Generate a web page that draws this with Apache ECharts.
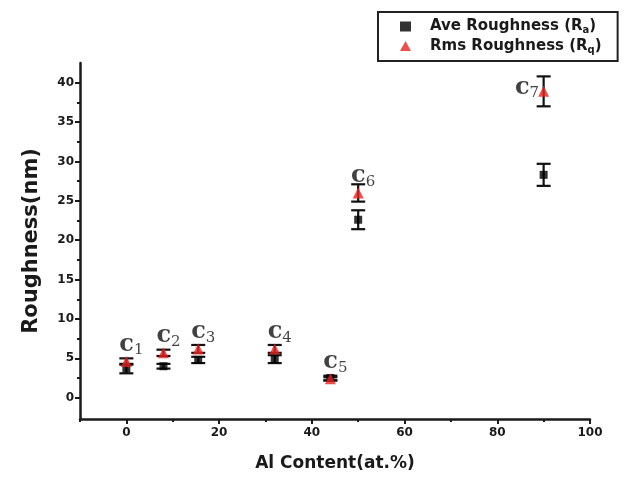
<!DOCTYPE html>
<html>
<head>
<meta charset="utf-8">
<script src="https://cdn.jsdelivr.net/npm/echarts@6/dist/echarts.min.js"></script>
<style>html,body{margin:0;padding:0;background:#fff;}#c{width:625px;height:480px;}</style>
</head>
<body>
<div id="c"></div>
<script>
// ---- data ----
const alContent = [0, 8, 15.5, 32, 44, 50, 90];
const aveRough  = [3.7, 4.0, 4.8, 4.9, 2.5, 22.6, 28.3];
const aveErr    = [0.6, 0.3, 0.4, 0.5, 0.3, 1.2, 1.4];
const rmsRough  = [4.6, 5.7, 6.2, 6.2, 2.4, 26.0, 38.9];
const rmsErr    = [0.4, 0.4, 0.5, 0.5, 0.2, 1.1, 1.9];
const sampleIds = ['1', '2', '3', '4', '5', '6', '7'];
const yMajorTicks = [0, 5, 10, 15, 20, 25, 30, 35, 40];
const yMinorTicks = [2.5, 7.5, 12.5, 17.5, 22.5, 27.5, 32.5, 37.5];
const xMajorTicks = [0, 20, 40, 60, 80, 100];
const xMinorTicks = [-10, 10, 30, 50, 70, 90];
const seriesNames = ['Ave Roughness (Ra)', 'Rms Roughness (Rq)'];
const legendBase = ['Ave Roughness', 'Rms Roughness'];
const legendSubs = ['a', 'q'];

const ink = '#1a1a1a';
const tickFont = {color: ink, fontSize: 12, fontWeight: 'bold', fontFamily: 'DejaVu Sans'};

function errSeries(vals, errs) {
  return {
    type: 'custom',
    silent: true,
    z: 2,
    data: alContent.map((x, i) => [x, vals[i], errs[i]]),
    renderItem: function (params, api) {
      const x = api.value(0), y = api.value(1), e = api.value(2);
      const t = api.coord([x, y + e]);
      const b = api.coord([x, y - e]);
      const hw = 7;
      const st = {stroke: '#111', lineWidth: 2.2};
      return {type: 'group', children: [
        {type: 'line', shape: {x1: t[0], y1: t[1], x2: b[0], y2: b[1]}, style: st},
        {type: 'line', shape: {x1: t[0] - hw, y1: t[1], x2: t[0] + hw, y2: t[1]}, style: st},
        {type: 'line', shape: {x1: b[0] - hw, y1: b[1], x2: b[0] + hw, y2: b[1]}, style: st}
      ]};
    }
  };
}

const chart = echarts.init(document.getElementById('c'), null, {renderer: 'canvas'});
chart.setOption({
  animation: false,
  backgroundColor: '#fff',
  grid: {left: 80, right: 35, top: 63, bottom: 61},
  legend: {
    data: seriesNames.map((n, i) => ({name: n, icon: i === 0 ? 'rect' : 'triangle'})),
    orient: 'vertical',
    left: 378, top: 12,
    borderColor: '#222', borderWidth: 2,
    padding: [7, 16, 6, 22],
    itemGap: 3,
    itemWidth: 11, itemHeight: 10,
    formatter: function (name) {
      const i = seriesNames.indexOf(name);
      return '{n|' + legendBase[i] + ' (R}{s|' + legendSubs[i] + '}{n|)}';
    },
    textStyle: {
      rich: {
        n: {fontSize: 15, fontWeight: 'bold', fontFamily: 'DejaVu Sans', color: ink, lineHeight: 17},
        s: {fontSize: 10, fontWeight: 'bold', fontFamily: 'DejaVu Sans', color: ink, padding: [8, 0, 0, 0]}
      },
      padding: [0, 0, 0, 14]
    }
  },
  xAxis: [{
    type: 'value', min: -10, max: 100,
    name: 'Al Content(at.%)', nameLocation: 'middle', nameGap: 36,
    nameTextStyle: {fontSize: 17, fontWeight: 'bold', fontFamily: 'DejaVu Sans', color: ink},
    axisLine: {onZero: false, lineStyle: {color: ink, width: 2.5}},
    axisTick: {customValues: xMajorTicks, length: 5, lineStyle: {color: ink, width: 2}},
    axisLabel: {customValues: xMajorTicks, ...tickFont, margin: 8},
    splitLine: {show: false}
  }, {
    type: 'value', min: -10, max: 100, position: 'bottom',
    axisLine: {show: false, onZero: false},
    axisTick: {customValues: xMinorTicks, length: 3, lineStyle: {color: ink, width: 2}},
    axisLabel: {show: false},
    splitLine: {show: false}
  }],
  yAxis: [{
    type: 'value', min: -2.7, max: 42.5,
    name: 'Roughness(nm)', nameLocation: 'middle', nameGap: 38, nameRotate: 90,
    nameTextStyle: {fontSize: 21, fontWeight: 'bold', fontFamily: 'DejaVu Sans', color: ink},
    axisLine: {show: true, onZero: false, lineStyle: {color: ink, width: 2.5}},
    axisTick: {show: true, customValues: yMajorTicks, length: 5, lineStyle: {color: ink, width: 2}},
    axisLabel: {customValues: yMajorTicks, ...tickFont, margin: 6},
    splitLine: {show: false}
  }, {
    type: 'value', min: -2.7, max: 42.5, position: 'left',
    axisLine: {show: false, onZero: false},
    axisTick: {show: true, customValues: yMinorTicks, length: 3, lineStyle: {color: ink, width: 2}},
    axisLabel: {show: false},
    splitLine: {show: false}
  }],
  series: [
    errSeries(aveRough, aveErr),
    errSeries(rmsRough, rmsErr),
    {
      name: seriesNames[0], type: 'scatter', z: 3,
      symbol: 'rect', symbolSize: 8,
      itemStyle: {color: '#000'},
      data: alContent.map((x, i) => [x, aveRough[i]])
    },
    {
      name: seriesNames[1], type: 'scatter', z: 4,
      symbol: 'triangle', symbolSize: 11,
      itemStyle: {color: '#e8231f'},
      data: alContent.map((x, i) => ({
        value: [x, rmsRough[i]],
        label: i === 6 ? {position: 'left', distance: 4, offset: [5, -4]} : {position: 'top', distance: 0, offset: [5, 2]}
      })),
      label: {
        show: true,
        formatter: function (p) { return '{c|c}{s|' + sampleIds[p.dataIndex] + '}'; },
        rich: {
          c: {fontSize: 24, fontWeight: 'bold', fontFamily: 'DejaVu Serif', color: '#111'},
          s: {fontSize: 15, fontFamily: 'DejaVu Serif', color: '#111', padding: [12, 0, 0, 0]}
        }
      }
    }
  ]
});
</script>
</body>
</html>
